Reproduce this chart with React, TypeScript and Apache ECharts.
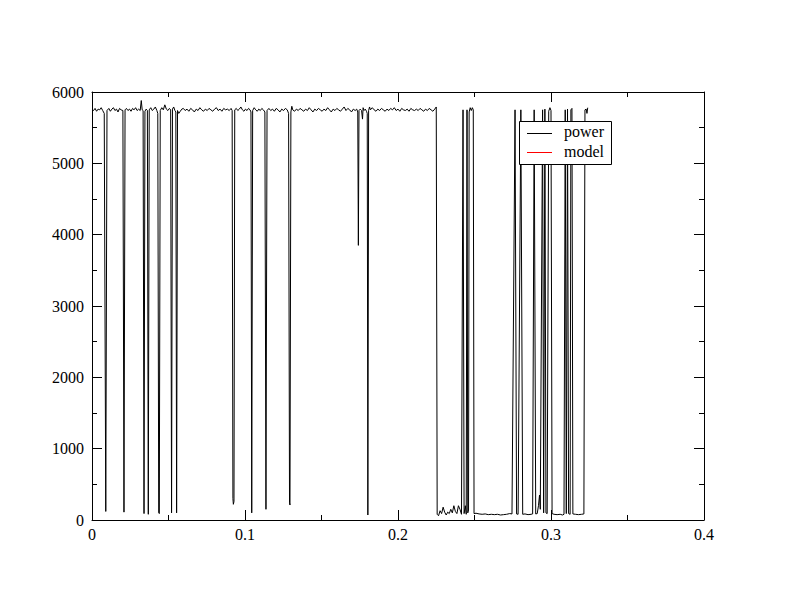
import React, { useEffect, useRef } from 'react';
import * as echarts from 'echarts';

const xTicks = [0, 0.1, 0.2, 0.3, 0.4];
const yTicks = [0, 1000, 2000, 3000, 4000, 5000, 6000];
const seriesNames = ['power', 'model'];
const seriesColors = ['#000000', '#ff0000'];

// power trace: [time, power]
const power: [number, number][] = [
  [0, 5760], [0.0010, 5740], [0.0020, 5770], [0.0030, 5730], [0.0040, 5760], [0.0050, 5750], [0.0060, 5780], [0.0070, 5740], [0.0080, 5700],
  [0.0090, 120], [0.0098, 5740],
  [0.0110, 5770], [0.0120, 5730], [0.0130, 5760], [0.0140, 5780], [0.0150, 5740], [0.0160, 5760], [0.0170, 5720], [0.0180, 5770], [0.0190, 5750], [0.0202, 5740],
  [0.0209, 110], [0.0216, 5750],
  [0.0225, 5770], [0.0235, 5740], [0.0245, 5760], [0.0255, 5730], [0.0265, 5770], [0.0275, 5750], [0.0285, 5780], [0.0295, 5740], [0.0305, 5760], [0.0315, 5740], [0.0322, 5880], [0.0328, 5750], [0.0334, 5740],
  [0.0340, 90], [0.0346, 5730], [0.0354, 5760], [0.0362, 5740],
  [0.0368, 80], [0.0374, 5750], [0.0384, 5780], [0.0394, 5740], [0.0404, 5760], [0.0414, 5790], [0.0424, 5740], [0.0430, 5700],
  [0.0436, 100], [0.0440, 90], [0.0446, 5740], [0.0456, 5780], [0.0466, 5750], [0.0476, 5820], [0.0486, 5760], [0.0496, 5740], [0.0506, 5770], [0.0514, 5750],
  [0.0520, 100], [0.0526, 5760], [0.0534, 5790], [0.0542, 5740], [0.0548, 5720],
  [0.0553, 100], [0.0559, 5740], [0.0567, 5700], [0.0577, 5730], [0.0587, 5760],
  [0.0597, 5770], [0.0609, 5740], [0.0621, 5760], [0.0633, 5730], [0.0645, 5770], [0.0657, 5750], [0.0669, 5720], [0.0681, 5760], [0.0693, 5740], [0.0705, 5780],
  [0.0717, 5750], [0.0729, 5730], [0.0741, 5760], [0.0753, 5740], [0.0765, 5770], [0.0777, 5750], [0.0789, 5730], [0.0801, 5760], [0.0813, 5780], [0.0825, 5740],
  [0.0837, 5760], [0.0849, 5730], [0.0861, 5770], [0.0873, 5750], [0.0885, 5760], [0.0897, 5740], [0.0909, 5770], [0.0916, 5740],
  [0.0921, 300], [0.0924, 220], [0.0928, 260], [0.0933, 5750],
  [0.0943, 5770], [0.0953, 5740], [0.0963, 5760], [0.0973, 5790], [0.0983, 5750], [0.0993, 5730], [0.1003, 5760], [0.1013, 5740], [0.1023, 5770], [0.1033, 5750], [0.1039, 5720],
  [0.1044, 100], [0.1050, 5740],
  [0.1060, 5780], [0.1070, 5750], [0.1080, 5730], [0.1090, 5760], [0.1100, 5740], [0.1110, 5770], [0.1120, 5750], [0.1130, 5720],
  [0.1137, 150], [0.1144, 5740],
  [0.1156, 5770], [0.1168, 5740], [0.1180, 5760], [0.1192, 5730], [0.1204, 5770], [0.1216, 5750], [0.1228, 5720], [0.1240, 5760], [0.1252, 5740], [0.1264, 5770], [0.1276, 5750], [0.1285, 5700],
  [0.1291, 240], [0.1294, 210], [0.1300, 5720], [0.1306, 5800], [0.1312, 5750],
  [0.1324, 5730], [0.1336, 5760], [0.1348, 5740], [0.1360, 5770], [0.1372, 5750], [0.1384, 5730], [0.1396, 5760], [0.1408, 5740], [0.1420, 5780], [0.1432, 5750],
  [0.1444, 5720], [0.1456, 5760], [0.1468, 5740], [0.1480, 5770], [0.1492, 5750], [0.1504, 5730], [0.1516, 5760], [0.1528, 5740], [0.1540, 5780], [0.1552, 5750],
  [0.1564, 5720], [0.1576, 5760], [0.1588, 5740], [0.1600, 5770], [0.1612, 5750], [0.1624, 5730], [0.1636, 5760], [0.1648, 5790], [0.1660, 5740], [0.1672, 5770],
  [0.1684, 5750], [0.1696, 5720], [0.1708, 5760], [0.1720, 5740], [0.1730, 5760], [0.1737, 5720],
  [0.1741, 3850], [0.1745, 5740], [0.1753, 5760], [0.1762, 5740], [0.1768, 5620], [0.1772, 5780], [0.1778, 5740], [0.1786, 5760], [0.1794, 5730], [0.1799, 5700],
  [0.1803, 70], [0.1808, 5740], [0.1814, 5790], [0.1820, 5750],
  [0.1832, 5780], [0.1844, 5750], [0.1856, 5730], [0.1868, 5760], [0.1880, 5740], [0.1892, 5770], [0.1904, 5750], [0.1916, 5730], [0.1928, 5760], [0.1940, 5740],
  [0.1952, 5770], [0.1964, 5750], [0.1976, 5780], [0.1988, 5740], [0.2000, 5760], [0.2012, 5730], [0.2024, 5770], [0.2036, 5750], [0.2048, 5740], [0.2060, 5760],
  [0.2072, 5730], [0.2084, 5770], [0.2096, 5750], [0.2108, 5740], [0.2120, 5760], [0.2132, 5740], [0.2144, 5770], [0.2156, 5750], [0.2168, 5730], [0.2180, 5760],
  [0.2192, 5740], [0.2204, 5770], [0.2216, 5750], [0.2228, 5730], [0.2240, 5760], [0.2250, 5790],
  [0.2256, 80], [0.2265, 60], [0.2275, 130], [0.2285, 90], [0.2295, 180], [0.2305, 110], [0.2315, 70], [0.2325, 110], [0.2335, 90], [0.2345, 150],
  [0.2355, 100], [0.2365, 200], [0.2375, 120], [0.2385, 90], [0.2395, 200], [0.2405, 150], [0.2415, 80],
  [0.2425, 5750], [0.2432, 90], [0.2440, 200], [0.2446, 80],
  [0.2451, 5750], [0.2456, 100], [0.2461, 140],
  [0.2465, 5720], [0.2472, 5780], [0.2479, 5740], [0.2486, 5780], [0.2492, 5750],
  [0.2497, 90], [0.2510, 95], [0.2530, 85], [0.2550, 80], [0.2570, 85], [0.2590, 75], [0.2610, 80], [0.2630, 75], [0.2650, 80], [0.2670, 70], [0.2690, 75],
  [0.2710, 80], [0.2730, 90], [0.2745, 85],
  [0.2765, 5750], [0.2775, 85], [0.2785, 80],
  [0.2803, 5750], [0.2815, 80], [0.2830, 85], [0.2850, 75], [0.2870, 80], [0.2880, 85],
  [0.2890, 5750], [0.2900, 85], [0.2910, 90], [0.2918, 200], [0.2925, 350], [0.2930, 150],
  [0.2945, 5750], [0.2952, 100],
  [0.2960, 5760], [0.2967, 100], [0.2975, 90],
  [0.2985, 5730], [0.2993, 5780], [0.3000, 5740],
  [0.3007, 90], [0.3020, 80], [0.3040, 75], [0.3060, 80], [0.3075, 70], [0.3085, 80],
  [0.3093, 5750], [0.3100, 90],
  [0.3108, 5760], [0.3115, 90], [0.3125, 80],
  [0.3130, 5750], [0.3137, 5770], [0.3143, 85],
  [0.3160, 80], [0.3180, 75], [0.3200, 80], [0.3215, 85],
  [0.3222, 5750], [0.3230, 5760], [0.3235, 5700], [0.3240, 5780],
];
const model: [number, number][] = [];

const FONT = 'Liberation Serif';

export default function App() {
  const ref = useRef<HTMLDivElement>(null);
  useEffect(() => {
    const chart = echarts.init(ref.current!, null, { renderer: 'svg' });
    const axisCommon = {
      type: 'value',
      axisLine: { show: true, onZero: false, lineStyle: { color: '#000', width: 1 } },
      axisTick: { show: true, inside: true, length: 10, lineStyle: { color: '#000', width: 1 } },
      minorTick: { show: true, splitNumber: 2, length: 5, lineStyle: { color: '#000', width: 1 } },
      splitLine: { show: false },
    };
    const xLabel = {
      color: '#000', fontFamily: FONT, fontSize: 16, margin: 6,
      formatter: (v: number) => {
        const t = xTicks.find((k) => Math.abs(k - v) < 1e-9);
        return String(t !== undefined ? t : v);
      },
    };
    const yLabel = {
      color: '#000', fontFamily: FONT, fontSize: 16, margin: 8,
      formatter: (v: number) => {
        const t = yTicks.find((k) => Math.abs(k - v) < 1e-6);
        return String(t !== undefined ? t : v);
      },
    };
    const xMin = xTicks[0], xMax = xTicks[xTicks.length - 1];
    const yMin = yTicks[0], yMax = yTicks[yTicks.length - 1];
    chart.setOption({
      animation: false,
      backgroundColor: '#fff',
      textStyle: { fontFamily: FONT },
      grid: { left: 92, top: 92, width: 612, height: 428 },
      xAxis: [
        { ...axisCommon, min: xMin, max: xMax, interval: 0.1, position: 'bottom', axisLabel: xLabel },
        { ...axisCommon, min: xMin, max: xMax, interval: 0.1, position: 'top', axisLabel: { show: false } },
      ],
      yAxis: [
        { ...axisCommon, min: yMin, max: yMax, interval: 1000, position: 'left', axisLabel: yLabel },
        { ...axisCommon, min: yMin, max: yMax, interval: 1000, position: 'right', axisLabel: { show: false } },
      ],
      series: [
        {
          name: seriesNames[0], type: 'line', data: power, xAxisIndex: 0, yAxisIndex: 0,
          showSymbol: false, symbol: 'none', lineStyle: { color: seriesColors[0], width: 1 },
          itemStyle: { color: seriesColors[0] },
        },
        {
          name: seriesNames[1], type: 'line', data: model, xAxisIndex: 0, yAxisIndex: 0,
          showSymbol: false, symbol: 'none', lineStyle: { color: seriesColors[1], width: 1 },
          itemStyle: { color: seriesColors[1] },
        },
      ],
      graphic: [
        {
          type: 'rect', z: 100,
          shape: { x: 519.5, y: 121.5, width: 92, height: 43 },
          style: { fill: '#fff', stroke: '#000', lineWidth: 1 },
        },
        {
          type: 'line', z: 101,
          shape: { x1: 527, y1: 133.5, x2: 552, y2: 133.5 },
          style: { stroke: seriesColors[0], lineWidth: 1 },
        },
        {
          type: 'text', z: 101, x: 564, y: 131,
          style: { text: seriesNames[0], fill: '#000', fontFamily: FONT, fontSize: 16, verticalAlign: 'middle', align: 'left' },
        },
        {
          type: 'line', z: 101,
          shape: { x1: 527, y1: 152.5, x2: 552, y2: 152.5 },
          style: { stroke: seriesColors[1], lineWidth: 1 },
        },
        {
          type: 'text', z: 101, x: 564, y: 151,
          style: { text: seriesNames[1], fill: '#000', fontFamily: FONT, fontSize: 16, verticalAlign: 'middle', align: 'left' },
        },
      ],
    });
    return () => chart.dispose();
  }, []);
  return (
    <div
      ref={ref}
      style={{ position: 'fixed', left: 0, top: 0, width: 792, height: 612, background: '#fff' }}
    />
  );
}
